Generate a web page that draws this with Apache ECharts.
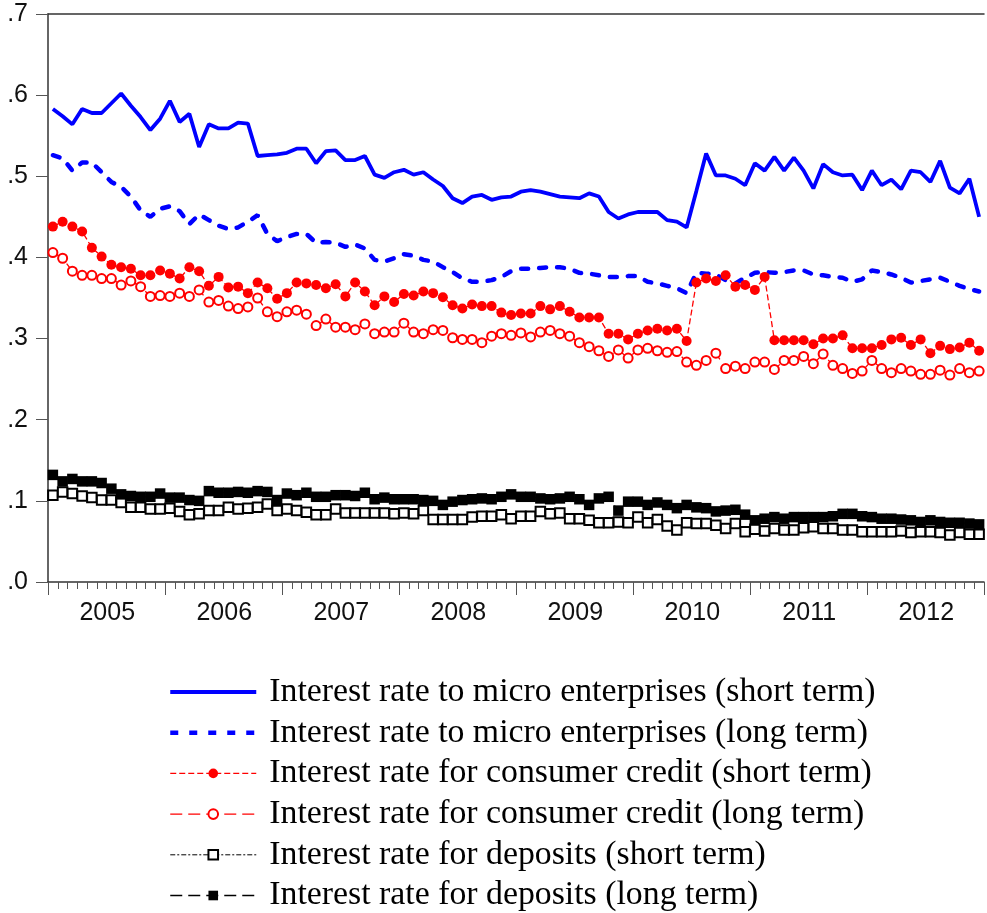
<!DOCTYPE html>
<html>
<head>
<meta charset="utf-8">
<script src="https://cdn.jsdelivr.net/npm/echarts@6/dist/echarts.min.js"></script>
<style>
  html, body { margin: 0; padding: 0; background: #fff; }
  #chart { width: 987px; height: 913px; }
</style>
</head>
<body>
<div id="chart"></div>
<script>
// monthly observations, Jan 2005 .. Dec 2012
const firstYear = 2005;
const yTicks = ['.0', '.1', '.2', '.3', '.4', '.5', '.6', '.7'];

const microShort = [
  0.583, 0.574, 0.564, 0.583, 0.578, 0.578, 0.590, 0.602, 0.587, 0.573,
  0.557, 0.571, 0.593, 0.567, 0.577, 0.536, 0.564, 0.559, 0.559, 0.566,
  0.565, 0.525, 0.526, 0.527, 0.529, 0.534, 0.534, 0.516, 0.531, 0.532,
  0.520, 0.520, 0.525, 0.502, 0.498, 0.505, 0.508, 0.502, 0.505, 0.496,
  0.488, 0.473, 0.467, 0.475, 0.477, 0.471, 0.474, 0.475, 0.481, 0.483,
  0.481, 0.478, 0.475, 0.474, 0.473, 0.479, 0.475, 0.456, 0.448, 0.453,
  0.456, 0.456, 0.456, 0.446, 0.444, 0.437, 0.482, 0.528, 0.501, 0.501,
  0.497, 0.489, 0.516, 0.507, 0.524, 0.507, 0.523, 0.507, 0.485, 0.515,
  0.505, 0.501, 0.502, 0.483, 0.507, 0.489, 0.496, 0.484, 0.507, 0.505,
  0.493, 0.519, 0.486, 0.479, 0.497, 0.450
];
const microLong = [
  0.526, 0.522, 0.507, 0.517, 0.517, 0.505, 0.493, 0.487, 0.475, 0.458,
  0.450, 0.460, 0.463, 0.457, 0.441, 0.453, 0.446, 0.439, 0.435, 0.437,
  0.444, 0.452, 0.429, 0.420, 0.425, 0.429, 0.429, 0.418, 0.419, 0.418,
  0.413, 0.416, 0.411, 0.397, 0.395, 0.399, 0.404, 0.402, 0.397, 0.395,
  0.388, 0.382, 0.374, 0.370, 0.370, 0.372, 0.376, 0.383, 0.386, 0.386,
  0.387, 0.388, 0.388, 0.386, 0.381, 0.380, 0.378, 0.376, 0.376, 0.377,
  0.377, 0.370, 0.368, 0.365, 0.362, 0.356, 0.381, 0.380, 0.379, 0.372,
  0.368, 0.375, 0.381, 0.382, 0.381, 0.382, 0.384, 0.384, 0.379, 0.378,
  0.376, 0.375, 0.370, 0.373, 0.384, 0.382, 0.379, 0.375, 0.369, 0.371,
  0.373, 0.375, 0.370, 0.365, 0.361, 0.358
];
const consumerShort = [
  0.438, 0.444, 0.438, 0.432, 0.412, 0.401, 0.391, 0.388, 0.386, 0.378,
  0.378, 0.384, 0.380, 0.374, 0.388, 0.383, 0.365, 0.376, 0.363, 0.364,
  0.356, 0.369, 0.362, 0.349, 0.356, 0.369, 0.368, 0.366, 0.362, 0.367,
  0.352, 0.369, 0.358, 0.341, 0.352, 0.345, 0.355, 0.353, 0.358, 0.356,
  0.351, 0.341, 0.337, 0.342, 0.340, 0.340, 0.332, 0.329, 0.331, 0.331,
  0.340, 0.336, 0.340, 0.333, 0.326, 0.326, 0.326, 0.306, 0.306, 0.299,
  0.306, 0.310, 0.312, 0.310, 0.312, 0.297, 0.369, 0.374, 0.371, 0.378,
  0.364, 0.366, 0.360, 0.376, 0.298, 0.298, 0.298, 0.298, 0.293, 0.300,
  0.300, 0.304, 0.288, 0.288, 0.288, 0.292, 0.299, 0.301, 0.292, 0.299,
  0.282, 0.291, 0.287, 0.289, 0.295, 0.285
];
const consumerLong = [
  0.406, 0.399, 0.383, 0.378, 0.378, 0.374, 0.374, 0.366, 0.371, 0.364,
  0.352, 0.353, 0.352, 0.356, 0.352, 0.360, 0.345, 0.347, 0.340, 0.337,
  0.339, 0.350, 0.333, 0.327, 0.333, 0.335, 0.330, 0.316, 0.324, 0.314,
  0.314, 0.311, 0.318, 0.306, 0.308, 0.308, 0.319, 0.308, 0.306, 0.311,
  0.310, 0.301, 0.299, 0.299, 0.295, 0.303, 0.306, 0.304, 0.307, 0.302,
  0.308, 0.310, 0.306, 0.303, 0.295, 0.290, 0.285, 0.278, 0.286, 0.276,
  0.286, 0.288, 0.285, 0.283, 0.284, 0.271, 0.267, 0.273, 0.282, 0.263,
  0.266, 0.263, 0.271, 0.271, 0.262, 0.273, 0.273, 0.278, 0.269, 0.281,
  0.267, 0.263, 0.257, 0.260, 0.273, 0.263, 0.258, 0.263, 0.260, 0.256,
  0.256, 0.261, 0.255, 0.263, 0.258, 0.260
];
const depositShort = [
  0.107, 0.111, 0.109, 0.106, 0.104, 0.101, 0.101, 0.098, 0.092, 0.092,
  0.090, 0.090, 0.091, 0.087, 0.083, 0.084, 0.088, 0.088, 0.092, 0.090,
  0.091, 0.092, 0.096, 0.088, 0.090, 0.088, 0.086, 0.083, 0.083, 0.090,
  0.085, 0.085, 0.085, 0.085, 0.085, 0.084, 0.085, 0.084, 0.088, 0.077,
  0.077, 0.077, 0.077, 0.080, 0.081, 0.081, 0.083, 0.078, 0.081, 0.081,
  0.087, 0.084, 0.085, 0.078, 0.078, 0.076, 0.073, 0.073, 0.074, 0.073,
  0.080, 0.073, 0.077, 0.069, 0.064, 0.073, 0.072, 0.072, 0.070, 0.066,
  0.072, 0.062, 0.065, 0.063, 0.066, 0.064, 0.064, 0.067, 0.068, 0.066,
  0.066, 0.064, 0.064, 0.062, 0.062, 0.062, 0.062, 0.063, 0.061, 0.062,
  0.062, 0.061, 0.058, 0.061, 0.059, 0.059
];
const depositLong = [
  0.132, 0.124, 0.127, 0.124, 0.124, 0.122, 0.115, 0.108, 0.106, 0.105,
  0.105, 0.109, 0.104, 0.104, 0.101, 0.100, 0.112, 0.110, 0.110, 0.111,
  0.110, 0.112, 0.111, 0.101, 0.109, 0.107, 0.110, 0.105, 0.105, 0.107,
  0.107, 0.106, 0.110, 0.102, 0.104, 0.102, 0.102, 0.102, 0.101, 0.100,
  0.095, 0.099, 0.101, 0.102, 0.103, 0.102, 0.105, 0.108, 0.105, 0.105,
  0.103, 0.102, 0.103, 0.105, 0.102, 0.095, 0.103, 0.105, 0.088, 0.099,
  0.099, 0.095, 0.098, 0.095, 0.091, 0.095, 0.092, 0.091, 0.087, 0.088,
  0.089, 0.083, 0.076, 0.078, 0.080, 0.078, 0.080, 0.080, 0.080, 0.080,
  0.081, 0.084, 0.084, 0.081, 0.080, 0.078, 0.078, 0.077, 0.076, 0.074,
  0.076, 0.074, 0.073, 0.073, 0.072, 0.071
];

const names = [
  'Interest rate to micro enterprises (short term)',
  'Interest rate to micro enterprises (long term)',
  'Interest rate for consumer credit (short term)',
  'Interest rate for consumer credit (long term)',
  'Interest rate for deposits (short term)',
  'Interest rate for deposits (long term)'
];

// each observation sits in the middle of its month
const toPoints = vals => vals.map((v, i) => [i + 0.5, v]);

const chart = echarts.init(document.getElementById('chart'));

const axisColor = '#333';

const option = {
  animation: false,
  backgroundColor: '#fff',
  grid: { left: 48, right: -9, top: 14, bottom: 331 },
  xAxis: [
    {
      type: 'value',
      min: 0,
      max: 96,
      interval: 12,
      splitLine: { show: false },
      axisLine: { lineStyle: { color: axisColor, width: 1.5 } },
      axisTick: { show: true, length: 13, lineStyle: { color: '#555', width: 1 } },
      minorTick: { show: true, splitNumber: 12, length: 7, lineStyle: { color: '#555', width: 1 } },
      axisLabel: {
        margin: 19,
        align: 'left',
        formatter: v => v >= 96 ? '' : '{y|' + (firstYear + v / 12) + '}',
        rich: {
          y: {
            width: 118.5,
            align: 'center',
            fontFamily: 'Liberation Sans, Arial, sans-serif',
            fontSize: 25,
            color: '#111'
          }
        }
      }
    },
    {
      type: 'value',
      position: 'top',
      min: 0,
      max: 96,
      splitLine: { show: false },
      axisLine: { show: true, lineStyle: { color: axisColor, width: 1.5 } },
      axisTick: { show: false },
      axisLabel: { show: false }
    }
  ],
  yAxis: {
    type: 'value',
    min: 0,
    max: 0.7,
    interval: 0.1,
    splitLine: { show: false },
    axisLine: { show: true, lineStyle: { color: axisColor, width: 1.5 } },
    axisTick: { show: true, length: 12, lineStyle: { color: '#555', width: 1 } },
    axisLabel: {
      margin: 20,
      fontFamily: 'Liberation Sans, Arial, sans-serif',
      fontSize: 25,
      color: '#111',
      formatter: v => yTicks[Math.round(v * 10)]
    }
  },
  legend: {
    orient: 'vertical',
    left: 168,
    top: 674,
    padding: 0,
    height: 260,
    itemWidth: 86,
    itemHeight: 12,
    itemGap: 4.7,
    data: [
      { name: names[0], itemStyle: { opacity: 0 }, lineStyle: { width: 4 } },
      { name: names[1], itemStyle: { opacity: 0 }, lineStyle: { width: 4.5, type: [8, 11], cap: 'butt' } },
      { name: names[2], lineStyle: { width: 1.3 } },
      { name: names[3], lineStyle: { width: 1.3 } },
      { name: names[4], lineStyle: { width: 1 } },
      { name: names[5], lineStyle: { width: 1.3 } }
    ],
    textStyle: {
      fontFamily: 'Liberation Serif, Times New Roman, serif',
      fontSize: 33.8,
      lineHeight: 36,
      color: '#000',
      padding: [0, 0, 0, 8]
    }
  },
  series: [
    {
      name: names[0],
      type: 'line',
      data: toPoints(microShort),
      symbol: 'none',
      lineStyle: { color: '#0000ff', width: 3.8 },
      itemStyle: { color: '#0000ff' }
    },
    {
      name: names[1],
      type: 'line',
      data: toPoints(microLong),
      symbol: 'none',
      lineStyle: { color: '#0000ff', width: 4.5, type: [7, 11], cap: 'round' },
      itemStyle: { color: '#0000ff' }
    },
    {
      name: names[2],
      type: 'line',
      data: toPoints(consumerShort),
      symbol: 'circle',
      symbolSize: 10,
      lineStyle: { color: '#ff0000', width: 1.3, type: [6, 3] },
      itemStyle: { color: '#ff0000' }
    },
    {
      name: names[3],
      type: 'line',
      data: toPoints(consumerLong),
      symbol: 'emptyCircle',
      symbolSize: 9,
      lineStyle: { color: '#ff0000', width: 1.3, type: [12, 6] },
      itemStyle: { color: '#ff0000', borderWidth: 1.5 }
    },
    {
      name: names[4],
      type: 'line',
      data: toPoints(depositShort),
      symbol: 'emptyRect',
      symbolSize: 9.5,
      lineStyle: { color: '#000', width: 1, type: [5, 2, 2, 2] },
      itemStyle: { color: '#000', borderWidth: 1.3 }
    },
    {
      name: names[5],
      type: 'line',
      data: toPoints(depositLong),
      symbol: 'rect',
      symbolSize: 10.5,
      lineStyle: { color: '#000', width: 1, type: [12, 6] },
      itemStyle: { color: '#000' }
    }
  ]
};

chart.setOption(option);
</script>
</body>
</html>
